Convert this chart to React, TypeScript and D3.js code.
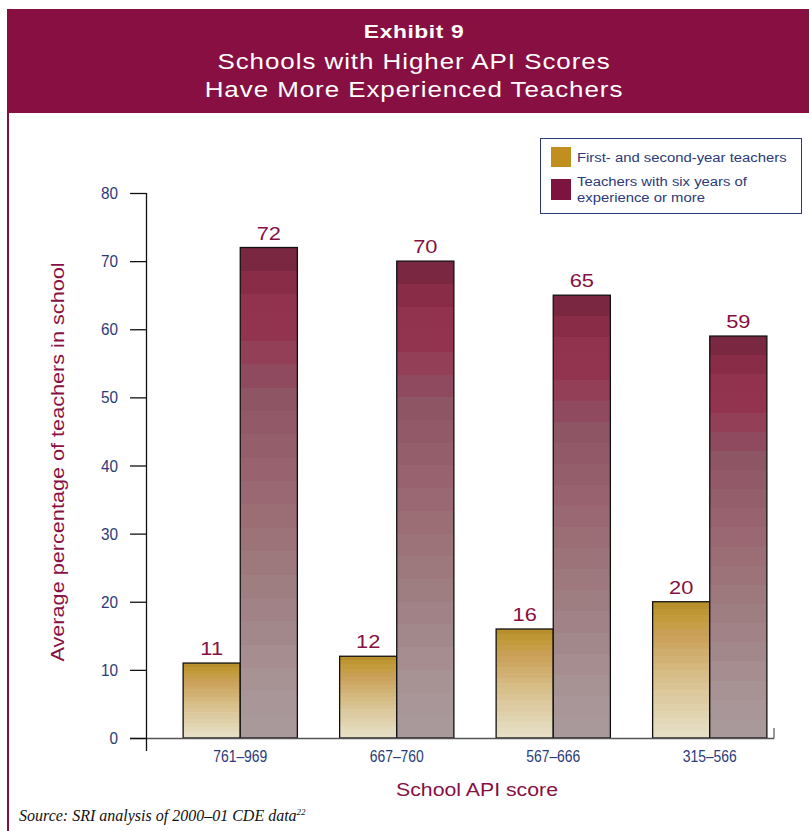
import React from "react";
import * as d3 from "d3";

const categories = ["761–969", "667–760", "567–666", "315–566"];
const seriesKeys = ["newTeachers", "experienced"];
const seriesLabels = ["First- and second-year teachers", "Teachers with six years of|experience or more"];
const newTeachers = [11, 12, 16, 20];
const experienced = [72, 70, 65, 59];
const yTicks = [0, 10, 20, 30, 40, 50, 60, 70, 80];

// banded fills, top of bar to bottom
const goldBands = [
  "#b98f2e", "#bf9634", "#c39b3c", "#c79e48", "#c99f55", "#cba35c", "#cda864",
  "#cfad6c", "#d2b274", "#d4b77c", "#d6bc85", "#d8c08d", "#dac495", "#dcc99d",
  "#ddcca3", "#dfd0aa", "#e1d4b1", "#e3d8b8", "#e5dcbf", "#e7dfc5",
];
const magentaBands = [
  "#7a2742", "#892c48", "#91334f", "#923450", "#933f58", "#8f4a5f", "#8e5565",
  "#925a68", "#955e6b", "#98636f", "#9a6872", "#9b6d75", "#9c7379", "#9d797d",
  "#9f7e82", "#a18387", "#a3888b", "#a58d90", "#a79294", "#a99698", "#aa999b",
];

const W = 809;
const H = 831;
const MAROON = "#870f42";
const NAVY = "#2b3a7a";
const SANS = "'Liberation Sans', Arial, Helvetica, sans-serif";

function bandStops(colors: string[]) {
  const n = colors.length;
  const stops: React.ReactElement[] = [];
  colors.forEach((c, i) => {
    stops.push(<stop key={`a${i}`} offset={i / n} stopColor={c} />);
    stops.push(<stop key={`b${i}`} offset={(i + 1) / n} stopColor={c} />);
  });
  return stops;
}

// Text with a horizontal stretch (sx > 1 extended, sx < 1 condensed)
function Wide(props: {
  x: number;
  y: number;
  sx: number;
  rotate?: number;
  children: React.ReactNode;
  [k: string]: any;
}) {
  const { x, y, sx, rotate, children, ...rest } = props;
  const t = `translate(${x},${y})${rotate ? ` rotate(${rotate})` : ""} scale(${sx},1)`;
  return (
    <text transform={t} {...rest}>
      {children}
    </text>
  );
}

export default function App() {
  const y = d3.scaleLinear().domain([0, 80]).range([738, 193]);
  const x0 = d3
    .scaleBand<string>()
    .domain(categories)
    .range([162, 788])
    .paddingInner(0.27)
    .paddingOuter(0.135);
  const x1 = d3.scaleBand<string>().domain(seriesKeys).range([0, x0.bandwidth()]);
  const values: Record<string, number[]> = { newTeachers, experienced };
  const fills: Record<string, string> = {
    newTeachers: "url(#goldGrad)",
    experienced: "url(#magGrad)",
  };

  return (
    <svg
      width={W}
      height={H}
      style={{ position: "absolute", left: 0, top: 0, background: "#fff" }}
      fontFamily={SANS}
    >
      <defs>
        <linearGradient id="goldGrad" x1="0" y1="0" x2="0" y2="1">
          {bandStops(goldBands)}
        </linearGradient>
        <linearGradient id="magGrad" x1="0" y1="0" x2="0" y2="1">
          {bandStops(magentaBands)}
        </linearGradient>
      </defs>

      {/* header band */}
      <rect x={7} y={9} width={W - 7} height={104} fill={MAROON} />
      <rect x={7} y={113} width={2} height={H - 113} fill={MAROON} />
      <Wide x={414} y={38} sx={1.2} textAnchor="middle" fill="#fff" fontSize={19} fontWeight="bold" letterSpacing={0.5}>
        Exhibit 9
      </Wide>
      <Wide x={414} y={69} sx={1.18} textAnchor="middle" fill="#fff" fontSize={22} letterSpacing={0.8}>
        Schools with Higher API Scores
      </Wide>
      <Wide x={414} y={97} sx={1.18} textAnchor="middle" fill="#fff" fontSize={22} letterSpacing={0.8}>
        Have More Experienced Teachers
      </Wide>

      {/* legend */}
      <rect x={540.5} y={138.5} width={261} height={75} fill="#fff" stroke={NAVY} strokeWidth={1} />
      <rect x={551} y={147} width={20} height={20} fill="#c08f1f" />
      <rect x={551} y={179} width={20} height={21} fill="#7d1440" />
      <Wide x={577} y={162} sx={1.1} fill={NAVY} fontSize={13.5}>
        {seriesLabels[0]}
      </Wide>
      {seriesLabels[1].split("|").map((t, i) => (
        <Wide key={t} x={577} y={186 + i * 16} sx={1.1} fill={NAVY} fontSize={13.5}>
          {t}
        </Wide>
      ))}

      {/* bars */}
      {categories.map((cat, ci) => (
        <g key={cat} transform={`translate(${x0(cat)},0)`}>
          {seriesKeys.map((k) => {
            const v = values[k][ci];
            const bx = x1(k) as number;
            return (
              <g key={k}>
                <rect
                  x={bx}
                  y={y(v)}
                  width={x1.bandwidth()}
                  height={y(0) - y(v)}
                  fill={fills[k]}
                  stroke="#111"
                  strokeWidth={1.3}
                />
                <Wide
                  x={bx + x1.bandwidth() / 2}
                  y={y(v) - 8}
                  sx={1.15}
                  textAnchor="middle"
                  fill={MAROON}
                  fontSize={19}
                >
                  {v}
                </Wide>
              </g>
            );
          })}
          <Wide
            x={x0.bandwidth() / 2}
            y={762}
            sx={0.82}
            textAnchor="middle"
            fill={NAVY}
            fontSize={17}
          >
            {cat}
          </Wide>
        </g>
      ))}

      {/* axes */}
      <line x1={130} x2={774} y1={738.5} y2={738.5} stroke="#555" strokeWidth={1.3} />
      <line x1={774} x2={774} y1={728} y2={738.5} stroke="#555" strokeWidth={1.2} />
      <line x1={146.5} x2={146.5} y1={193} y2={751} stroke="#111" strokeWidth={1.3} />
      {yTicks.map((t) => (
        <g key={t}>
          <line x1={130} x2={146.5} y1={y(t) + 0.5} y2={y(t) + 0.5} stroke="#111" strokeWidth={1.3} />
          <Wide x={118} y={y(t) + 6} sx={0.9} textAnchor="end" fill={NAVY} fontSize={17}>
            {t}
          </Wide>
        </g>
      ))}

      <Wide x={64} y={462} rotate={-90} sx={1.14} textAnchor="middle" fill={MAROON} fontSize={19}>
        Average percentage of teachers in school
      </Wide>
      <Wide x={477} y={796} sx={1.12} textAnchor="middle" fill={MAROON} fontSize={19}>
        School API score
      </Wide>

      <text
        x={19}
        y={821}
        fill="#111"
        fontSize={16}
        fontStyle="italic"
        fontFamily="'Liberation Serif', 'Times New Roman', serif"
      >
        Source: SRI analysis of 2000–01 CDE data
        <tspan fontSize={9} dy={-6}>
          22
        </tspan>
      </text>
    </svg>
  );
}
